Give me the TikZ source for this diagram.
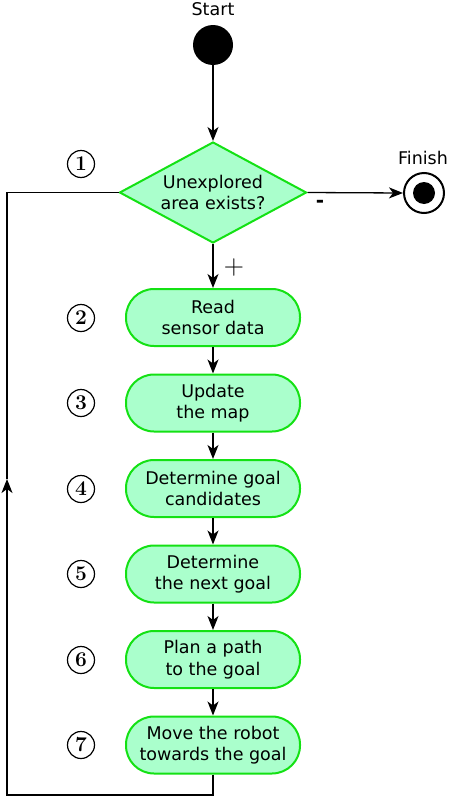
\documentclass[tikz,border=0pt]{standalone}
\usepackage{fontspec}
\setmainfont{DejaVu Sans}
\newfontfamily\numfont{Latin Modern Roman}
\usetikzlibrary{shapes.geometric,arrows.meta}
\definecolor{boxfill}{RGB}{170,255,204}
\definecolor{boxline}{RGB}{20,225,20}
\tikzset{
  every node/.style={font=\fontsize{17.5}{21.5}\selectfont},
  stepbox/.style={draw=boxline, fill=boxfill, line width=2pt, rounded corners=28pt,
    minimum width=174pt, minimum height=57pt, align=center, inner sep=0pt},
  decbox/.style={diamond, draw=boxline, fill=boxfill, line width=2pt,
    minimum width=187pt, minimum height=101pt, inner sep=0pt, shape aspect=1.85, align=center},
  numc/.style={circle, draw, line width=1.2pt, minimum size=27pt, inner sep=0pt,
    font=\fontsize{21}{21}\numfont\bfseries\selectfont},
  tipstyle/.style={-{Stealth[length=14pt,width=11pt,inset=4pt]}},
  flow/.style={line width=1.3pt, tipstyle},
  plain/.style={line width=1.3pt},
}
\begin{document}
\begin{tikzpicture}[x=1pt,y=-1pt]
\useasboundingbox (0,0) rectangle (448,798);
\node[circle, fill=black, minimum size=40pt, inner sep=0pt] (start) at (213,45) {};
\node (startlbl) at (213,9) {Start};
\node[decbox] (dec) at (213,192.5) {Unexplored\\area exists?};
\node[circle, draw, fill=white, line width=2pt, minimum size=40pt, inner sep=0pt] (fin) at (424,193) {};
\node[circle, fill=black, minimum size=22pt, inner sep=0pt] (fininner) at (424,193) {};
\node (finlbl) at (423,158) {Finish};

\node[stepbox] (b2) at (213,317.5) {Read\\sensor data};
\node[stepbox] (b3) at (213,403) {Update\\the map};
\node[stepbox] (b4) at (213,488.5) {Determine goal\\candidates};
\node[stepbox] (b5) at (213,574) {Determine\\the next goal};
\node[stepbox] (b6) at (213,659.5) {Plan a path\\to the goal};
\node[stepbox] (b7) at (213,745) {Move the robot\\towards the goal};

\node[numc] (n1) at (81,164) {1};
\node[numc] (n2) at (81,318) {2};
\node[numc] (n3) at (81,403) {3};
\node[numc] (n4) at (81,489) {4};
\node[numc] (n5) at (81,574) {5};
\node[numc] (n6) at (81,660) {6};
\node[numc] (n7) at (81,745) {7};

\node[font=\fontsize{28}{28}\numfont\selectfont] (plus) at (234,268) {+};
\node[font=\fontsize{20}{20}\bfseries\selectfont] (minus) at (320,204) {-};

\draw[flow] (start) -- (dec.north);
\draw[flow] (dec.east) -- (fin.west);
\draw[flow] (dec.south) -- (b2.north);
\draw[flow] (b2) -- (b3);
\draw[flow] (b3) -- (b4);
\draw[flow] (b4) -- (b5);
\draw[flow] (b5) -- (b6);
\draw[flow] (b6) -- (b7);

\coordinate (c1) at (7,795);
\coordinate (c2) at (7,479);
\coordinate (c3) at (7,192.5);
\draw[flow] (b7.south) |- (c1) -- (c2);
\draw[plain] (c2) -- (c3) -- (dec.west);
\end{tikzpicture}
\end{document}
